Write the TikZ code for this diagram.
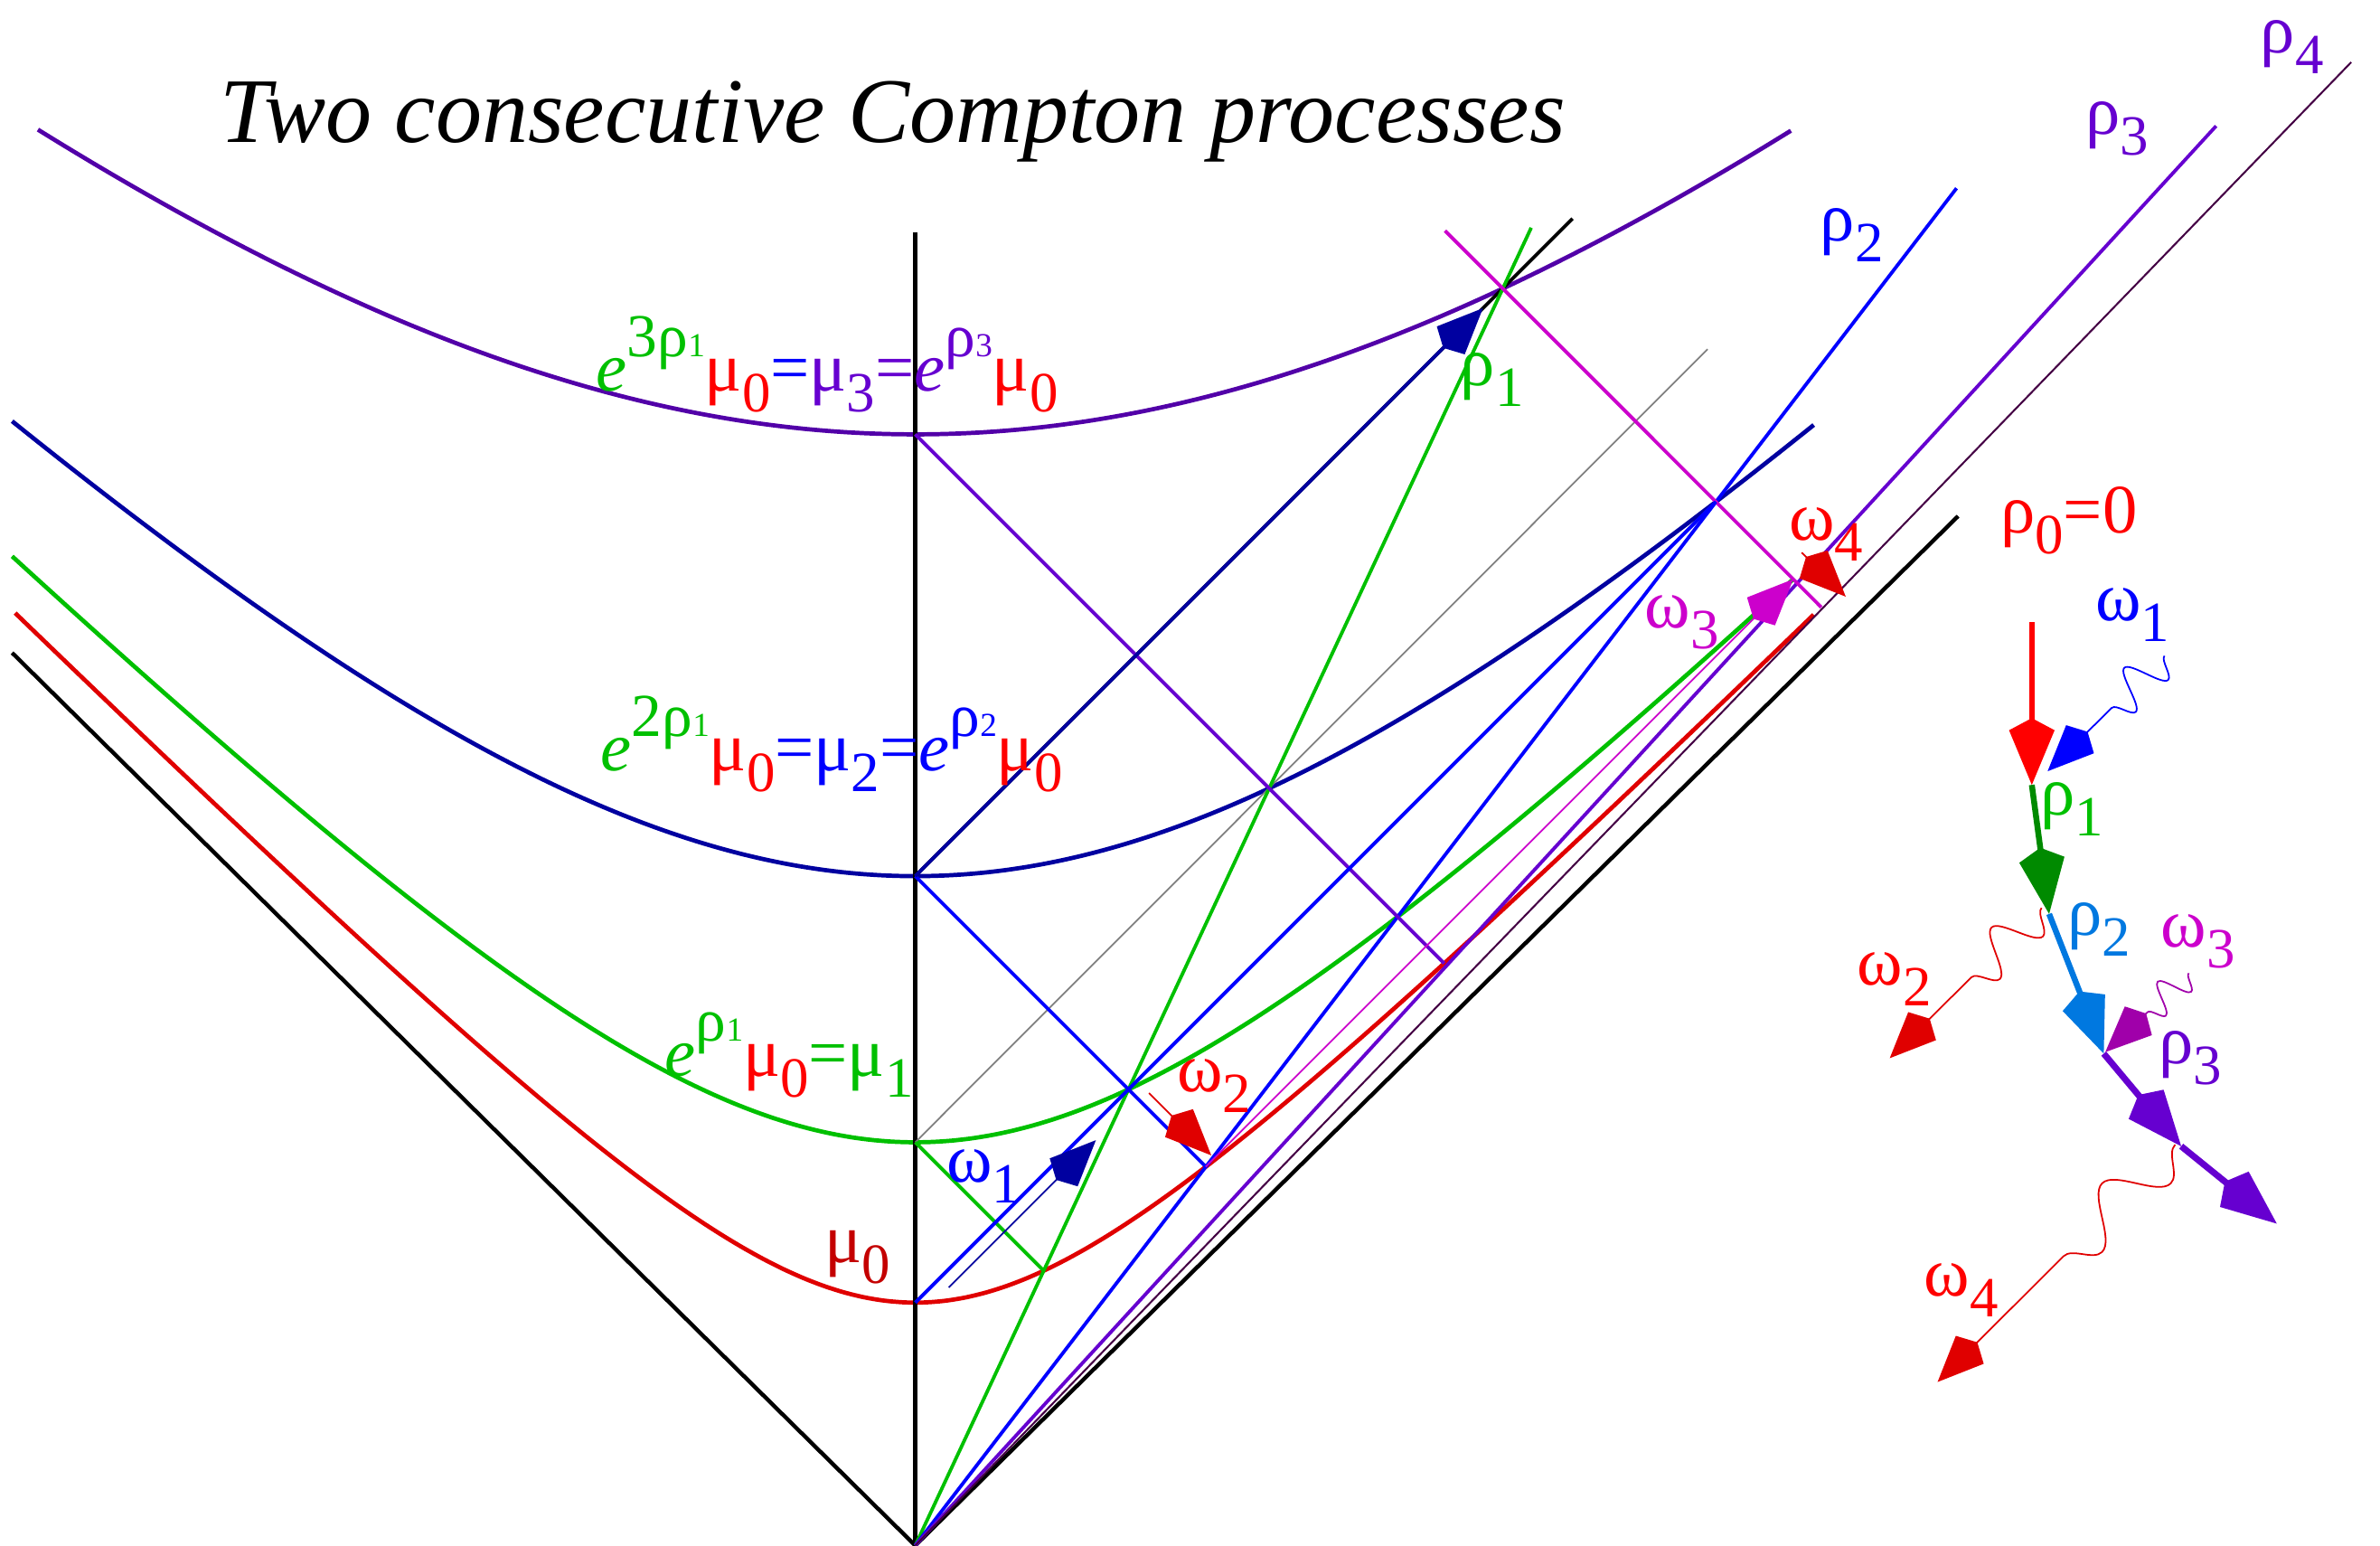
\documentclass[tikz,border=0pt]{standalone}
\usepackage{fontspec}
\setmainfont{Liberation Serif}
\usetikzlibrary{arrows.meta,decorations.pathmorphing}
\definecolor{cred}{HTML}{FF0000}
\definecolor{hred}{HTML}{E00000}
\definecolor{dred}{HTML}{C40000}
\definecolor{cgreen}{HTML}{00C000}
\definecolor{dgreen}{HTML}{008A00}
\definecolor{cblue}{HTML}{0000FF}
\definecolor{navy}{HTML}{0000A0}
\definecolor{skyblue}{HTML}{0078E0}
\definecolor{cviolet}{HTML}{6600D0}
\definecolor{dviolet}{HTML}{5200A8}
\definecolor{plum}{HTML}{440044}
\definecolor{cmag}{HTML}{CC00CC}
\definecolor{dmag}{HTML}{A000AA}
\newcommand\dn[1]{\raisebox{-0.3em}{\scalebox{0.82}{#1}}}
\newcommand\up[1]{\raisebox{0.5em}{\scalebox{0.88}{#1}}}
\newcommand\tn[1]{\scalebox{0.55}{#1}}
\tikzset{
  hyp/.style={line width=0.8pt},
  wl/.style={line width=0.65pt},
  hair/.style={line width=0.3pt},
  phot/.style={line width=0.3pt,-{Kite[length=3.7mm,width=2.6mm,inset=0.7mm]}},
  elec/.style={line width=1pt,-{Kite[length=4.4mm,width=3mm,inset=0.8mm]}},
  wiggle/.style n args={3}{decorate,decoration={snake,amplitude=#1,segment length=#2,post length=#3}},
  lbl/.style={inner sep=0pt,font=\fontsize{13}{15}\selectfont}
}
\begin{document}
\begin{tikzpicture}[x=1cm,y=1cm]
\useasboundingbox (-6.03,0) rectangle (9.65,10.18);
\coordinate (O) at (0,0);
\coordinate (A0) at (0,1.6);
\coordinate (A1) at (0,2.656);
\coordinate (A2) at (0,4.409);
\coordinate (A3) at (0,7.319);
\coordinate (P01) at (0.846,1.810);
\coordinate (P02) at (1.914,2.495);
\coordinate (P03) at (3.485,3.834);
\coordinate (P04) at (5.969,6.180);
\coordinate (P13) at (5.784,6.365);
\coordinate (P22) at (5.275,6.875);
\coordinate (P31) at (3.870,8.279);
\coordinate (top) at (0,8.65);
\coordinate (lcL) at (-5.95,5.88);
\coordinate (lcR) at (6.87,6.78);
\coordinate (r1) at (4.058,8.68);
\coordinate (r2) at (6.86,8.94);
\coordinate (r3) at (8.57,9.35);
\coordinate (r4) at (9.46,9.77);
\coordinate (gE) at (5.22,7.88);
\coordinate (bE) at (4.33,8.74);
\coordinate (mS) at (3.49,8.66);
\coordinate (nE) at (3.74,8.15);
\coordinate (w1a) at (0.22,1.70);
\coordinate (w1b) at (1.19,2.67);
\coordinate (w2a) at (1.54,2.98);
\coordinate (w2b) at (1.95,2.57);
\coordinate (w4a) at (5.84,6.54);
\coordinate (w4b) at (6.13,6.25);

\draw[hred,hyp] plot[domain=-5.93:5.92,samples=90,smooth] (\x,{sqrt(\x*\x+1.6*1.6)});
\draw[cgreen,hyp] plot[domain=-5.95:5.784,samples=90,smooth] (\x,{sqrt(\x*\x+2.656*2.656)});
\draw[navy,hyp] plot[domain=-5.95:5.92,samples=90,smooth] (\x,{sqrt(\x*\x+4.409*4.409)});
\draw[dviolet,hyp] plot[domain=-5.78:5.77,samples=90,smooth] (\x,{sqrt(\x*\x+7.319*7.319)});

\draw[black,line width=0.75pt] (lcL) -- (O) -- (lcR);
\draw[black,line width=0.8pt] (O) -- (top);
\draw[gray,hair] (A1) -- (gE);
\draw[black,wl] (A2) -- (bE);
\draw[cgreen,wl] (O) -- (r1);
\draw[cblue,wl] (O) -- (r2);
\draw[cviolet,wl] (O) -- (r3);
\draw[plum,line width=0.35pt] (O) -- (r4);
\draw[cgreen,wl] (A1) -- (P01);
\draw[cblue,wl] (A2) -- (P02);
\draw[cviolet,wl] (A3) -- (P03);
\draw[cmag,wl] (mS) -- (P04);
\draw[cblue,wl] (A0) -- (P22);
\draw[navy,wl,-{Kite[length=3.7mm,width=2.6mm,inset=0.7mm]}] (A2) -- (nE);
\draw[navy,phot] (w1a) -- (w1b);
\draw[hred,phot] (w2a) -- (w2b);
\draw[cmag,phot] (P02) -- (P13);
\draw[hred,phot] (w4a) -- (w4b);

\node[inner sep=0pt,font=\fontsize{17.3}{20}\selectfont\itshape] (title) at (-0.15,9.38) {Two consecutive Compton processes};
\node[lbl,text=cviolet] (lr4) at (9.07,9.87) {ρ\dn{4}};
\node[lbl,text=cviolet] (lr3) at (7.92,9.33) {ρ\dn{3}};
\node[lbl,text=cblue] (lr2) at (6.17,8.63) {ρ\dn{2}};
\node[lbl,text=cgreen] (lr1) at (3.80,7.68) {ρ\dn{1}};
\node[lbl,text=cred] (lr0) at (7.60,6.75) {ρ\dn{0}=0};
\node[lbl,text=cred] (lw4) at (6.00,6.66) {ω\dn{4}};
\node[lbl,text=cmag] (lw3) at (5.05,6.08) {ω\dn{3}};
\node[lbl,text=cred] (lw2) at (1.97,3.03) {ω\dn{2}};
\node[lbl,text=cblue] (lw1) at (0.45,2.43) {ω\dn{1}};
\node[lbl,text=dred] (lm0) at (-0.38,1.90) {μ\dn{0}};
\node[lbl] (lm1) at (-0.83,3.23) {\textcolor{cgreen}{\textit{e}\up{ρ\tn{1}}}\textcolor{cred}{μ\dn{0}}\textcolor{cgreen}{=μ\dn{1}}};
\node[lbl] (lm2) at (-0.55,5.28) {\textcolor{cgreen}{\textit{e}\up{2ρ\tn{1}}}\textcolor{cred}{μ\dn{0}}\textcolor{cblue}{=μ\dn{2}=\textit{e}\up{ρ\tn{2}}}\textcolor{cred}{μ\dn{0}}};
\node[lbl] (lm3) at (-0.58,7.78) {\textcolor{cgreen}{\textit{e}\up{3ρ\tn{1}}}\textcolor{cred}{μ\dn{0}}\textcolor{cblue}{=}\textcolor{cviolet}{μ\dn{3}=\textit{e}\up{ρ\tn{3}}}\textcolor{cred}{μ\dn{0}}};

\coordinate (Q0) at (7.356,6.08);
\coordinate (Q1) at (7.356,5.01);
\coordinate (Q2) at (7.47,4.16);
\coordinate (Q3) at (7.83,3.24);
\coordinate (Q4) at (8.34,2.63);
\coordinate (Q5) at (8.97,2.12);
\coordinate (g1a) at (8.23,5.86);
\coordinate (g1b) at (7.46,5.10);
\coordinate (g2a) at (7.42,4.20);
\coordinate (g2b) at (6.42,3.21);
\coordinate (g3a) at (8.39,3.77);
\coordinate (g3b) at (7.84,3.25);
\coordinate (g4a) at (8.30,2.64);
\coordinate (g4b) at (6.735,1.077);
\draw[cred,elec] (Q0) -- (Q1);
\draw[dgreen,elec,line width=1.1pt] (Q1) -- (Q2);
\draw[skyblue,elec,line width=1.1pt] (Q2) -- (Q3);
\draw[cviolet,elec,line width=1.2pt] (Q3) -- (Q4);
\draw[cviolet,elec,line width=1.2pt] (Q4) -- (Q5);
\draw[cblue,phot,wiggle={1.3mm}{3mm}{4.7mm}] (g1a) -- (g1b);
\draw[hred,phot,wiggle={1.4mm}{4mm}{5.9mm}] (g2a) -- (g2b);
\draw[dmag,phot,wiggle={1mm}{2.3mm}{3.1mm}] (g3a) -- (g3b);
\draw[hred,phot,wiggle={1.6mm}{6.4mm}{9.2mm}] (g4a) -- (g4b);
\node[lbl,text=cblue] (rw1) at (8.02,6.13) {ω\dn{1}};
\node[lbl,text=cgreen] (rr1) at (7.62,4.85) {ρ\dn{1}};
\node[lbl,text=skyblue] (rr2) at (7.80,4.06) {ρ\dn{2}};
\node[lbl,text=cred] (rw2) at (6.45,3.73) {ω\dn{2}};
\node[lbl,text=cmag] (rw3) at (8.45,3.98) {ω\dn{3}};
\node[lbl,text=cviolet] (rr3) at (8.40,3.21) {ρ\dn{3}};
\node[lbl,text=cred] (rw4) at (6.89,1.68) {ω\dn{4}};
\end{tikzpicture}
\end{document}
